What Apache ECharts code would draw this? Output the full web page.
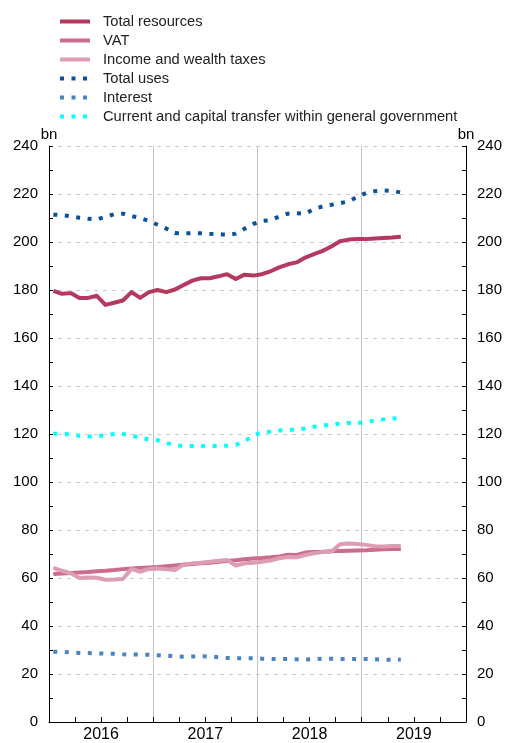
<!DOCTYPE html>
<html>
<head>
<meta charset="utf-8">
<script src="https://cdn.jsdelivr.net/npm/echarts@6/dist/echarts.min.js"></script>
<style>
  html, body { margin: 0; padding: 0; background: #fff; }
  #chart { width: 505px; height: 743px; }
</style>
</head>
<body>
<div id="chart"></div>
<script>
// Monthly figures, January 2016 to May 2019, in billions
const years = ['2016', '2017', '2018', '2019'];

const totalResources = [
  179.6, 178.4, 178.7, 176.7, 176.7, 177.6, 173.8, 174.7, 175.6, 179.1, 176.7, 179.1,
  180.0, 179.1, 180.2, 182.1, 183.9, 184.9, 184.9, 185.7, 186.6, 184.6, 186.4, 186.0,
  186.6, 187.8, 189.4, 190.7, 191.5, 193.5, 194.9, 196.3, 198.1, 200.3, 201.0, 201.2,
  201.2, 201.5, 201.7, 201.9, 202.2
];
const vat = [
  61.7, 61.9, 62.1, 62.3, 62.5, 62.8, 63.0, 63.3, 63.7, 64.0, 64.2, 64.4,
  64.6, 64.9, 65.2, 65.5, 65.8, 66.1, 66.4, 66.8, 67.1, 67.4, 67.8, 68.1,
  68.3, 68.6, 69.0, 69.7, 69.6, 70.6, 70.8, 70.9, 71.2, 71.3, 71.4, 71.5,
  71.6, 71.8, 72.0, 72.1, 72.1
];
const incomeWealthTaxes = [
  64.2, 63.0, 62.0, 60.0, 60.2, 60.1, 59.3, 59.4, 59.6, 63.8, 62.6, 63.8,
  64.0, 63.6, 63.3, 65.6, 66.1, 66.4, 66.8, 67.2, 67.5, 65.2, 66.1, 66.4,
  66.8, 67.3, 68.2, 68.7, 68.6, 69.6, 70.3, 70.8, 70.9, 74.1, 74.4, 74.2,
  73.8, 73.2, 73.1, 73.3, 73.3
];
const totalUses = [
  211.4, 211.2, 210.7, 210.1, 209.7, 209.3, 210.5, 211.6, 211.8, 210.8, 210.0, 208.8,
  207.2, 205.6, 203.7, 203.6, 203.7, 203.6, 203.4, 203.3, 202.9, 203.5, 205.5, 207.5,
  208.8, 209.1, 210.6, 211.8, 212.0, 211.8, 213.8, 214.8, 215.5, 216.2, 216.9, 218.9,
  220.4, 221.2, 221.5, 221.3, 220.6
];
const interest = [
  29.3, 29.2, 29.0, 28.8, 28.7, 28.6, 28.5, 28.4, 28.2, 28.1, 28.1, 28.0,
  27.8, 27.6, 27.4, 27.2, 27.3, 27.4, 27.3, 27.0, 26.7, 26.6, 26.6, 26.6,
  26.4, 26.3, 26.2, 26.2, 26.1, 26.0, 26.2, 26.4, 26.4, 26.3, 26.3, 26.3,
  26.3, 26.1, 26.0, 25.9, 26.0
];
const transfersGovt = [
  120.1, 120.1, 119.8, 119.3, 119.0, 119.0, 119.5, 120.0, 120.0, 119.3, 118.5, 117.7,
  117.4, 116.3, 115.3, 115.0, 115.0, 115.0, 115.0, 115.0, 115.1, 115.5, 116.8, 119.5,
  120.6, 121.0, 121.5, 121.7, 121.8, 122.3, 123.0, 123.6, 123.7, 124.4, 124.6, 124.5,
  125.0, 125.6, 126.1, 126.6, 126.4
];

const FONT = "'Liberation Sans', Arial, Helvetica, sans-serif";
const DOTS = [4, 7.5];

// each monthly value sits in the middle of its month on a 0..48 month scale
function monthly(values) {
  return values.map((v, i) => [i + 0.5, v]);
}

function lineSeries(name, values, color, dotted) {
  return {
    name: name,
    type: 'line',
    data: monthly(values),
    symbol: 'none',
    showSymbol: false,
    smooth: false,
    color: color,
    lineStyle: {
      color: color,
      width: 4,
      type: dotted ? DOTS : 'solid',
      cap: 'butt',
      join: 'round'
    },
    emphasis: { disabled: true }
  };
}

function valueAxis(position, withGrid) {
  return {
    type: 'value',
    position: position,
    min: 0,
    max: 240,
    interval: 20,
    name: 'bn',
    nameLocation: 'end',
    nameGap: 4,
    nameMoveOverlap: false,
    nameTextStyle: { fontSize: 15, color: '#000', fontFamily: FONT },
    axisLine: { show: true, onZero: false, lineStyle: { color: '#000', width: 1 } },
    axisTick: { show: true, inside: true, length: 4, lineStyle: { color: '#000' } },
    minorTick: { show: true, splitNumber: 2, length: 4, lineStyle: { color: '#000' } },
    axisLabel: { fontSize: 15, color: '#000', fontFamily: FONT, margin: 11 },
    splitLine: withGrid
      ? { show: true, lineStyle: { color: '#cccccc', width: 1, type: [4, 5] } }
      : { show: false }
  };
}

const chart = echarts.init(document.getElementById('chart'), null, { renderer: 'canvas' });
chart.setOption({
  animation: false,
  backgroundColor: '#fff',
  legend: {
    orient: 'vertical',
    left: 53,
    top: 9,
    itemWidth: 30,
    itemHeight: 14,
    itemGap: 4,
    itemStyle: { opacity: 0 },
    lineStyle: { width: 4, cap: 'butt' },
    textStyle: { fontSize: 14.7, color: '#222', fontFamily: FONT, padding: [0, 0, 0, 8] },
    selectedMode: false
  },
  grid: { left: 49, right: 37, top: 146, bottom: 16, containLabel: false },
  xAxis: [
    {
      type: 'value',
      min: 0,
      max: 48,
      interval: 3,
      axisLine: { show: true, onZero: false, lineStyle: { color: '#000', width: 1 } },
      axisTick: { show: true, inside: true, length: 5, lineStyle: { color: '#000' } },
      splitLine: { show: false },
      axisLabel: {
        fontSize: 16,
        color: '#000',
        fontFamily: FONT,
        margin: 5,
        showMinLabel: true,
        showMaxLabel: true,
        formatter: function (v) {
          const k = (v - 6) / 12;
          return Number.isInteger(k) && k >= 0 && k < years.length ? years[k] : '';
        }
      }
    },
    {
      // year separators
      type: 'value',
      min: 0,
      max: 48,
      interval: 12,
      position: 'bottom',
      z: 0,
      axisLine: { show: false },
      axisTick: { show: false },
      axisLabel: { show: false },
      splitLine: { show: true, lineStyle: { color: '#c4c4c4', width: 1 } }
    }
  ],
  yAxis: [valueAxis('left', true), valueAxis('right', false)],
  series: [
    lineSeries('Total resources', totalResources, '#b5385f', false),
    lineSeries('VAT', vat, '#cc6b8c', false),
    lineSeries('Income and wealth taxes', incomeWealthTaxes, '#dd9db5', false),
    lineSeries('Total uses', totalUses, '#0b4f9f', true),
    lineSeries('Interest', interest, '#4a82c3', true),
    lineSeries('Current and capital transfer within general government', transfersGovt, '#00ffff', true)
  ]
});
</script>
</body>
</html>
